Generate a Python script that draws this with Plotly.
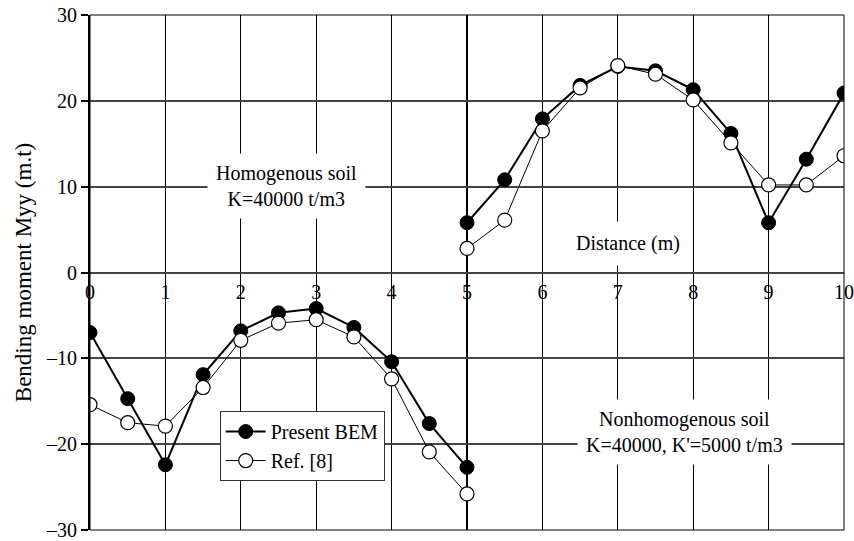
import plotly.graph_objects as go

# Distance along the beam (m), sampled every 0.5 m on each side of the soil change at x = 5
x_left = [0, 0.5, 1, 1.5, 2, 2.5, 3, 3.5, 4, 4.5, 5]
x_right = [5, 5.5, 6, 6.5, 7, 7.5, 8, 8.5, 9, 9.5, 10]

# Bending moment Myy (m.t)
bem_left = [-7.0, -14.7, -22.4, -11.9, -6.8, -4.7, -4.2, -6.4, -10.4, -17.6, -22.7]
bem_right = [5.8, 10.8, 17.9, 21.8, 24.0, 23.5, 21.3, 16.2, 5.8, 13.2, 20.9]
ref_left = [-15.4, -17.5, -17.9, -13.4, -7.9, -5.9, -5.5, -7.5, -12.4, -20.9, -25.8]
ref_right = [2.8, 6.1, 16.5, 21.5, 24.1, 23.1, 20.1, 15.1, 10.2, 10.2, 13.6]

x_ticks = list(range(0, 11))
y_ticks = [-30, -20, -10, 0, 10, 20, 30]

FONT = "'Liberation Serif', 'Times New Roman', 'DejaVu Serif', serif"
FS = 20


def join(a_left, a_right):
    # break the line at the discontinuity
    return a_left + [None] + a_right


fig = go.Figure()
fig.add_trace(go.Scatter(
    x=join(x_left, x_right), y=join(bem_left, bem_right),
    mode="lines+markers", name="Present BEM",
    line=dict(color="black", width=2),
    marker=dict(symbol="circle", size=14, color="black",
                line=dict(color="black", width=1)),
    connectgaps=False,
))
fig.add_trace(go.Scatter(
    x=join(x_left, x_right), y=join(ref_left, ref_right),
    mode="lines+markers", name="Ref. [8]",
    line=dict(color="black", width=1),
    marker=dict(symbol="circle", size=14, color="white",
                line=dict(color="black", width=1.2)),
    connectgaps=False,
))

# thicker line marking the soil boundary
fig.add_shape(type="line", xref="x", yref="paper", x0=5, x1=5, y0=0, y1=1,
              line=dict(color="black", width=2), layer="below")
# frame
fig.add_shape(type="rect", xref="paper", yref="paper", x0=0, x1=1, y0=0, y1=1,
              line=dict(color="black", width=1), layer="above")

ann_font = dict(family=FONT, size=FS, color="black")
fig.add_annotation(x=2.61, y=10.1, xref="x", yref="y",
                   text="Homogenous soil<br>K=40000 t/m3", showarrow=False,
                   font=ann_font, bgcolor="white", borderpad=8)
fig.add_annotation(x=7.88, y=-18.6, xref="x", yref="y",
                   text="Nonhomogenous soil<br>K=40000, K'=5000 t/m3", showarrow=False,
                   font=ann_font, bgcolor="white", borderpad=8)
fig.add_annotation(x=7.13, y=3.4, xref="x", yref="y",
                   text="Distance (m)", showarrow=False,
                   font=ann_font, bgcolor="white", borderpad=10)

fig.update_layout(
    width=854, height=541,
    margin=dict(l=90, r=10, t=15, b=11),
    paper_bgcolor="white", plot_bgcolor="white",
    font=dict(family=FONT, size=FS, color="black"),
    showlegend=True,
    legend=dict(x=0.172, y=0.231, xanchor="left", yanchor="top",
                bgcolor="white", bordercolor="#333", borderwidth=1,
                itemwidth=40,
                font=dict(family=FONT, size=FS), tracegroupgap=2),
    xaxis=dict(
        range=[0, 10], tickvals=x_ticks, ticktext=[str(v) for v in x_ticks],
        showgrid=True, gridcolor="black", gridwidth=1,
        zeroline=False, showline=False, ticks="", automargin=False,
        anchor="free", position=0.5, ticklabelstandoff=5,
        tickfont=dict(family=FONT, size=FS),
    ),
    yaxis=dict(
        range=[-30, 30], tickvals=y_ticks,
        ticktext=["\u201330", "\u201320", "\u201310", "0", "10", "20", "30"],
        showgrid=True, gridcolor="#444", gridwidth=1.5,
        zeroline=False, showline=True, linecolor="black", linewidth=2,
        ticks="outside", ticklen=7, tickcolor="black", tickwidth=1.5,
        automargin=False,
        tickfont=dict(family=FONT, size=FS),
        title=dict(text="Bending moment Myy (m.t)", standoff=8,
                   font=dict(family=FONT, size=23)),
    ),
)

fig.write_html("out.html")
